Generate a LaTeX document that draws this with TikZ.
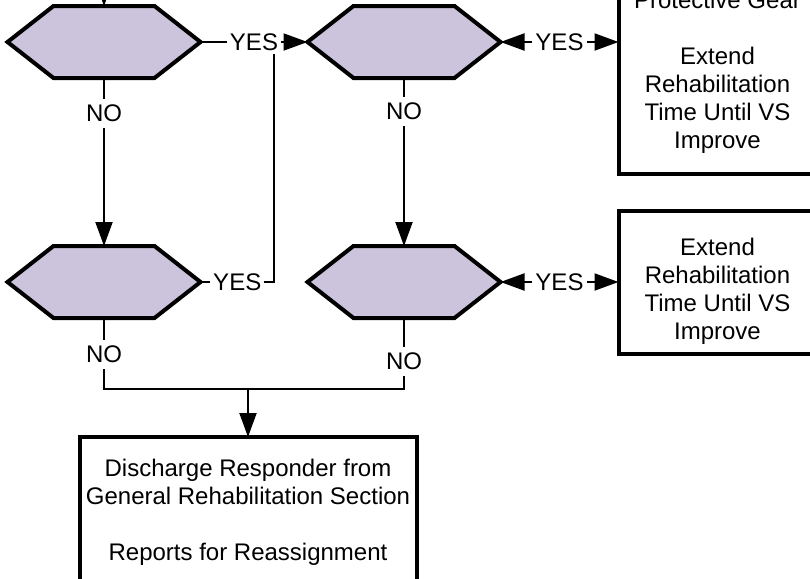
\documentclass[tikz,border=0pt]{standalone}
\usepackage{fontspec}
\setmainfont{Liberation Sans}
\usetikzlibrary{arrows.meta,positioning,calc}
\definecolor{hexlilac}{RGB}{204,196,220}

\begin{document}
\begin{tikzpicture}[x=0.5pt, y=-0.5pt, font=\fontsize{12}{14}\selectfont]
    \tikzstyle{hexa}=[minimum width=96.5pt, minimum height=36pt, inner sep=0pt, outer sep=0pt,
        append after command={\pgfextra{\draw[line width=2pt, fill=hexlilac]
            (\tikzlastnode.west) -- ([xshift=23pt]\tikzlastnode.north west) -- ([xshift=-23pt]\tikzlastnode.north east)
            -- (\tikzlastnode.east) -- ([xshift=-23pt]\tikzlastnode.south east) -- ([xshift=23pt]\tikzlastnode.south west) -- cycle;}}]
    \tikzstyle{box}=[draw, line width=2pt, minimum width=99pt, align=center, inner sep=0pt, outer sep=0pt]
    \tikzstyle{lbl}=[fill=white, inner xsep=1.5pt, inner ysep=3pt]
    \tikzstyle{flow}=[line width=1pt, -{Triangle[length=12pt, width=8.5pt]}]
    \tikzstyle{both}=[line width=1pt, {Triangle[length=12pt, width=8.5pt]}-{Triangle[length=12pt, width=8.5pt]}]
    \useasboundingbox (0,0) rectangle (810,579);
    \clip (0,0) rectangle (810,579);
    % Decisions
    \node[hexa] (q1) at (104,42) {};
    \node[hexa, right=53.5pt of q1] (q2) {};
    \node[hexa, below=84pt of q1] (q3) {};
    \node[hexa, below=84pt of q2] (q4) {};
    % Actions
    \node[box, minimum height=71.5pt, text height=60pt, right=59pt of q4] (act2) {Extend\\Rehabilitation\\Time Until VS\\Improve};
    \node[box, inner ysep=10pt, above=18.5pt of act2] (act1) {Protective Gear\\[14pt]Extend\\Rehabilitation\\Time Until VS\\Improve};
    \coordinate (merge) at (248,389);
    \node[box, minimum width=168.5pt, inner ysep=11.3pt, below=24pt of merge] (dis) {Discharge Responder from\\General Rehabilitation Section\\[14pt]Reports for Reassignment};
    % Connectors
    \coordinate (start) at (104,-20);
    \draw[flow] (start) -- (q1.north);
    \draw[flow] (q1.east) -- node[lbl] (yes1) {YES} (q2.west);
    \draw[flow] (q1.south) -- node[lbl, pos=0.21] {NO} (q3.north);
    \draw[flow] (q2.south) -- node[lbl, pos=0.20] {NO} (q4.north);
    \coordinate (join1) at ($(yes1.south east)+(-4pt,2pt)$);
    \draw[line width=1pt] (q3.east) -- node[lbl] {YES} (q3.east -| join1) -- (join1);
    \draw[both] (q2.east) -- node[lbl] {YES} (q2.east -| act1.west);
    \draw[both] (q4.east) -- node[lbl] {YES} (q4.east -| act2.west);
    \draw[line width=1pt] (q3.south) -- node[lbl, pos=0.51] {NO} (q3.south |- merge) -- (q4.south |- merge) -- node[lbl, pos=0.39] {NO} (q4.south);
    \draw[flow] (merge) -- (dis.north);
\end{tikzpicture}
\end{document}
